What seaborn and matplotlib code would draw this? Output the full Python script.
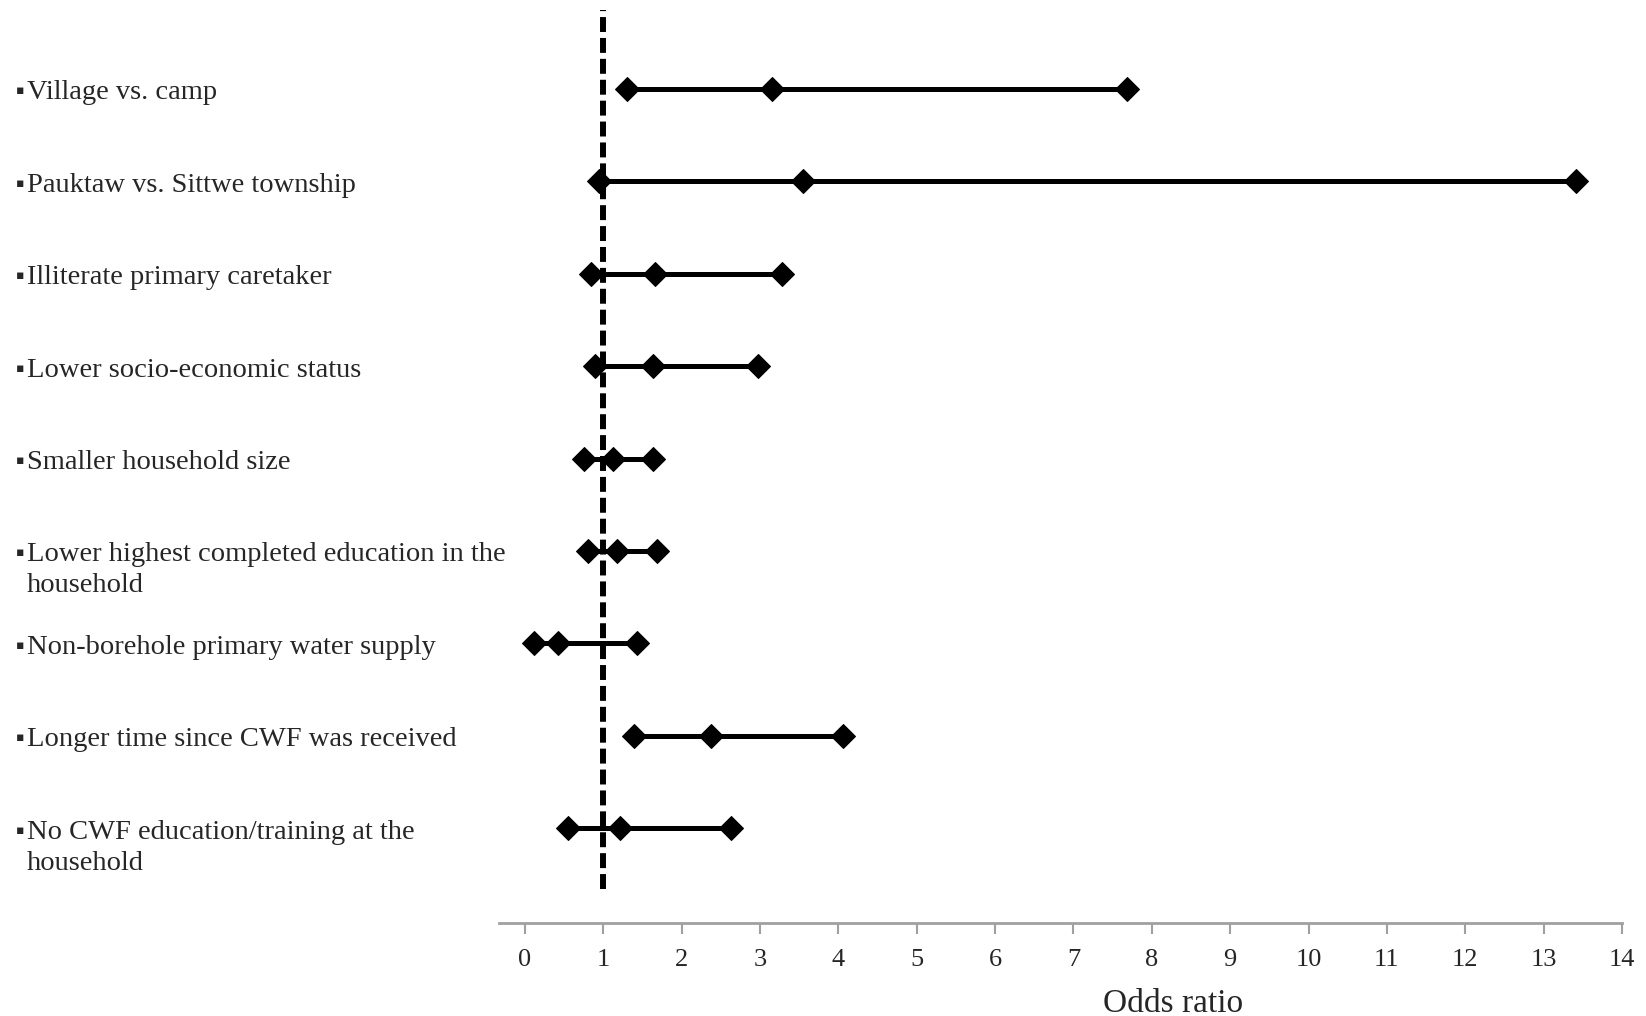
import numpy as np
import pandas as pd
import matplotlib
matplotlib.use("Agg")
import matplotlib.pyplot as plt
import seaborn as sns

# risk factors, top to bottom
factors = [
    "Village vs. camp",
    "Pauktaw vs. Sittwe township",
    "Illiterate primary caretaker",
    "Lower socio-economic status",
    "Smaller household size",
    "Lower highest completed education in the\nhousehold",
    "Non-borehole primary water supply",
    "Longer time since CWF was received",
    "No CWF education/training at the\nhousehold",
]
# odds ratio with 95% CI
ci_low = [1.30, 0.95, 0.84, 0.90, 0.76, 0.80, 0.12, 1.39, 0.55]
odds = [3.15, 3.55, 1.66, 1.63, 1.13, 1.17, 0.42, 2.37, 1.22]
ci_high = [7.68, 13.41, 3.28, 2.97, 1.63, 1.69, 1.43, 4.06, 2.63]
xticks = list(range(0, 15))

n = len(factors)
pos = np.arange(n, 0, -1)

df = pd.DataFrame({"factor": np.repeat(factors, 3),
                   "pos": np.repeat(pos, 3),
                   "value": np.column_stack([ci_low, odds, ci_high]).ravel()})

sns.set_style("white")
plt.rcParams['font.family'] = ['Liberation Serif', 'DejaVu Serif']

W, H = 1646, 1016
fig = plt.figure(figsize=(W / 100, H / 100), dpi=100)
ax = fig.add_axes([499 / W, 1 - 923 / H, (1622 - 499) / W, 923 / H])

sns.lineplot(data=df, x="value", y="pos", units="factor", estimator=None,
             color="black", lw=3.6, marker="D", markersize=12,
             markeredgecolor="black", sort=False, ax=ax, zorder=3)

# reference line at OR = 1
dash = ax.vlines(1, 0.34, 9.86, color="black", lw=4.3, zorder=2)
dash.set_linestyle((0, (2.5, 1.0)))

ax.set_xlim(-0.33, 14)
ax.set_ylim(-0.026, 9.963)
ax.set_xticks(xticks)
ax.set_xticklabels([str(t) for t in xticks], fontsize=19)
ax.set_yticks([])
ax.set_ylabel("")
ax.tick_params(axis="x", bottom=True, direction="out", length=8, width=1.5,
               color="#a0a0a0", pad=11)
for s in ["top", "right", "left"]:
    ax.spines[s].set_visible(False)
ax.spines["bottom"].set_color("#a0a0a0")
ax.spines["bottom"].set_linewidth(2)

ax.set_xlabel("Odds ratio", fontsize=24)
ax.xaxis.set_label_coords((1173 - 499) / (1622 - 499), -65 / 923)

# bullet labels on the left
for f, p in zip(factors, pos):
    y = ax.transData.transform((0, p))[1]
    yf = y / fig.bbox.height - 4 / H
    fig.text(16 / W, yf + 2 / H, "\u25aa", fontsize=9, va="center", ha="left",
             family=['DejaVu Sans'])
    for i, line in enumerate(f.split("\n")):
        fig.text(27 / W, yf - i * 31 / H, line, fontsize=20.5,
                 va="center", ha="left")

fig.savefig("out.png", dpi=100)
